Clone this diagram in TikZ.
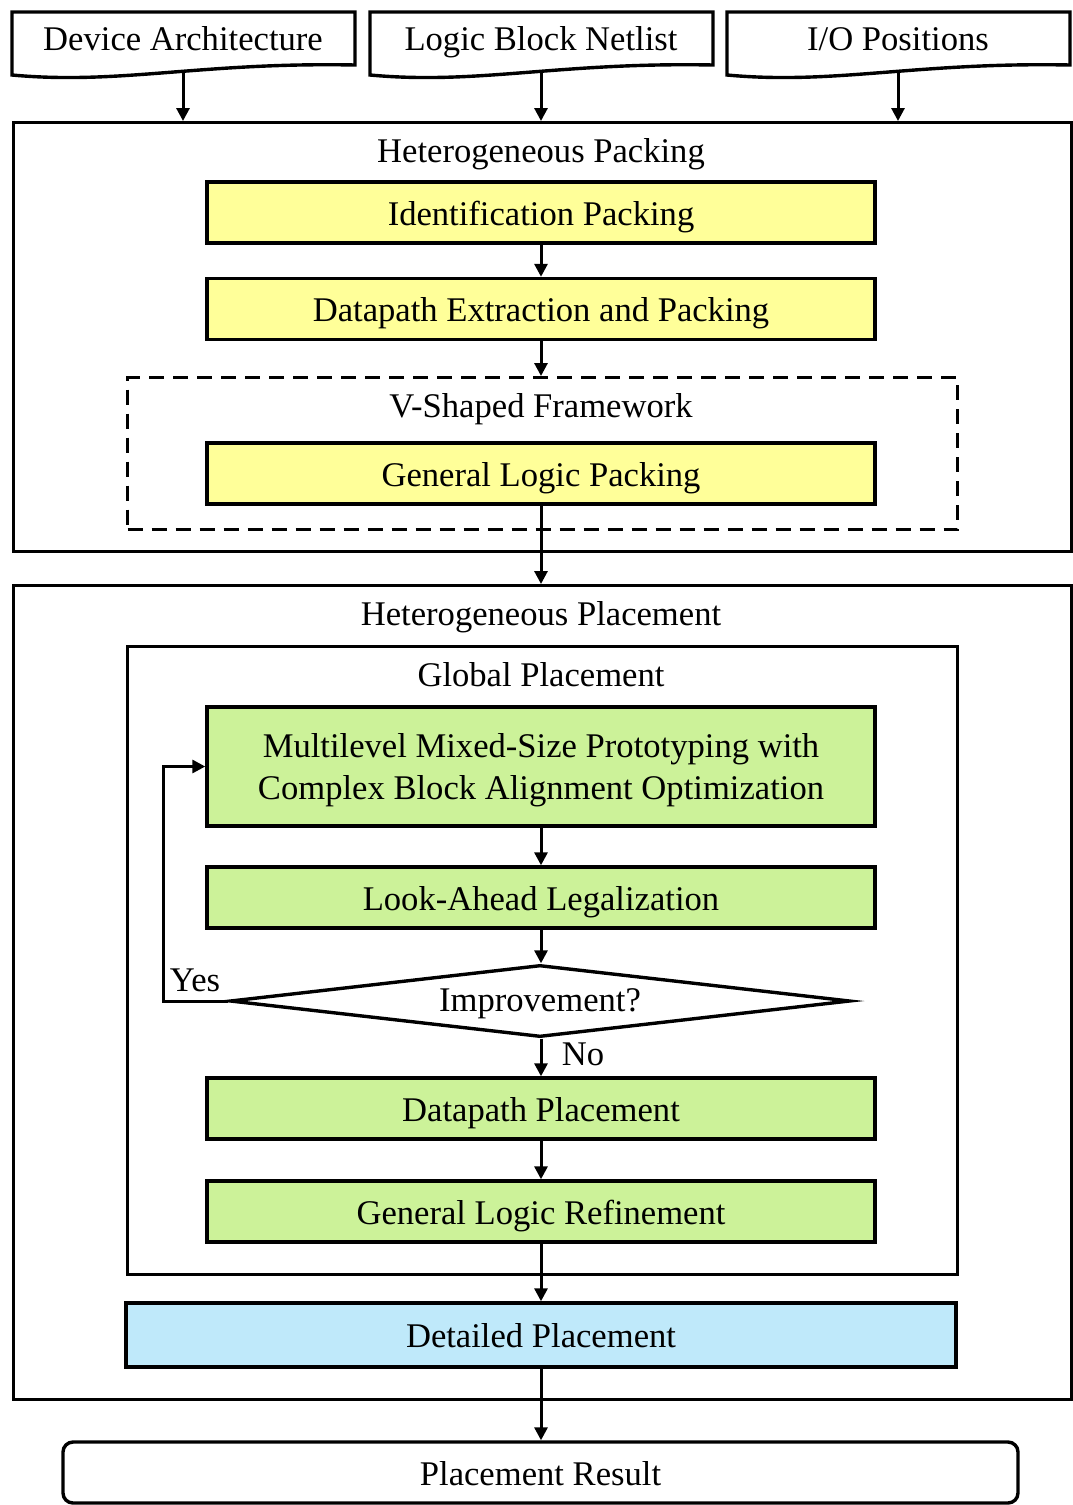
\documentclass[tikz,border=0pt]{standalone}
\usepackage{fontspec}
\setmainfont{Liberation Serif}
\usetikzlibrary{arrows.meta,shapes.geometric}
\definecolor{packfill}{RGB}{255,255,153}
\definecolor{placefill}{RGB}{204,242,153}
\definecolor{detailfill}{RGB}{191,233,250}

\begin{document}
\begin{tikzpicture}[x=1pt,y=-1pt, line width=3.4pt,
  txt/.style={font=\fontsize{34.6}{42}\selectfont, inner sep=0pt},
  lbl/.style={txt, anchor=base},
  stage/.style={draw, txt, minimum width=668pt, minimum height=61pt,
    text height=25pt, text depth=0pt},
  frame/.style={draw, rectangle, anchor=north west},
  docshape/.style={draw, line join=miter},
  arr/.style={-{Triangle[length=13pt,width=13pt]}, line width=3pt},
]
\useasboundingbox (0,0) rectangle (1073,1505);

% input documents with a wavy lower edge
\foreach \dx in {12,370,727}{
  \begin{scope}[shift={(\dx,12)}]
    \draw[docshape] (0,0) -- (343,0) -- (343,53)
      .. controls (188,50) and (108,73) .. (0,63) -- cycle;
  \end{scope}
}
\node[lbl] (dev) at (183,50) {Device Architecture};
\node[lbl] (net) at (541,50) {Logic Block Netlist};
\node[lbl] (io)  at (898,50) {I/O Positions};
\coordinate (devb) at (183,72);
\coordinate (netb) at (541,72);
\coordinate (iob)  at (898,72);

% packing stage
\node[frame, minimum width=1058pt, minimum height=429pt] (pack) at (12,121) {};
\node[lbl] (packlbl) at (541,162) {Heterogeneous Packing};
\node[stage, fill=packfill] (ident) at (541,212.5) {Identification Packing};
\node[stage, fill=packfill] (dpx) at (541,309) {Datapath Extraction and Packing};
\node[frame, dashed, dash pattern=on 15pt off 9pt, minimum width=830pt, minimum height=152pt] (vshape) at (126,376) {};
\node[lbl] (vlbl) at (541,417) {V-Shaped Framework};
\node[stage, fill=packfill] (glp) at (541,473.5) {General Logic Packing};

% placement stage
\node[frame, minimum width=1058pt, minimum height=814pt] (place) at (12,584) {};
\node[lbl] (placelbl) at (541,625) {Heterogeneous Placement};
\node[frame, minimum width=830pt, minimum height=628pt] (gp) at (126,645) {};
\node[lbl] (gplbl) at (541,686) {Global Placement};
\node[draw, fill=placefill, minimum width=668pt, minimum height=119pt] (ml) at (541,766.5) {};
\node[txt, align=center] (mltxt) at (541,770)
  {Multilevel Mixed-Size Prototyping with\\Complex Block Alignment Optimization};
\node[stage, fill=placefill] (lal) at (541,897.5) {Look-Ahead Legalization};
\node[draw, diamond, txt, aspect=8.6, minimum width=620pt, minimum height=72pt,
  text height=20pt, text depth=0pt] (imp) at (540,1001) {Improvement?};
\node[stage, fill=placefill] (dpp) at (541,1108.5) {Datapath Placement};
\node[stage, fill=placefill] (glr) at (541,1211.5) {General Logic Refinement};
\node[stage, fill=detailfill, minimum width=830pt, minimum height=64pt] (detail) at (541,1335) {Detailed Placement};

\node[stage, rounded corners=10pt, minimum width=955pt] (result) at (540.5,1472.5) {Placement Result};

\node[lbl] (yes) at (195,991) {Yes};
\node[lbl] (no) at (583,1065) {No};

% connectors
\draw[arr] (devb) -- (devb |- pack.north);
\draw[arr] (netb) -- (netb |- pack.north);
\draw[arr] (iob) -- (iob |- pack.north);
\draw[arr] (ident) -- (dpx);
\draw[arr] (dpx.south) -- (vshape.north -| dpx.south);
\draw[arr] (glp.south) -- (place.north -| glp.south);
\draw[arr] (ml) -- (lal);
\draw[arr] (lal.south) -- (imp.north -| lal.south);
\draw[arr] (imp.south -| dpp.north) -- (dpp);
\draw[arr] (imp.west) -- ++(-65,0) |- (ml.west);
\draw[arr] (dpp) -- (glr);
\draw[arr] (glr) -- (detail);
\draw[arr] (detail.south) -- (detail.south |- result.north);
\end{tikzpicture}
\end{document}
